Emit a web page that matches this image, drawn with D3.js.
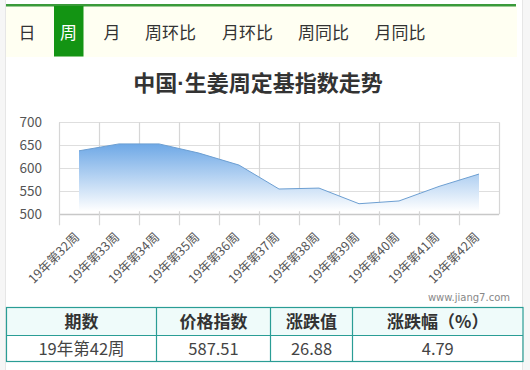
<!DOCTYPE html>
<html lang="zh">
<head>
<meta charset="UTF-8" />
<title>生姜周定基指数</title>
<script src="https://cdn.jsdelivr.net/npm/d3@7"></script>
<style>
    body { margin: 0; background: #f6f6f6; }
    text { font-family: "Microsoft YaHei", "Noto Sans CJK SC", sans-serif; }
</style>
</head>
<body>
<script>
    // data
    const tabs = ["日", "周", "月", "周环比", "月环比", "周同比", "月同比"];
    const activeTab = "周";
    const weeks = ["19年第32周", "19年第33周", "19年第34周", "19年第35周", "19年第36周", "19年第37周",
        "19年第38周", "19年第39周", "19年第40周", "19年第41周", "19年第42周"];
    const values = [638, 653, 653, 633, 607, 555, 557, 523, 529, 560.63, 587.51];
    const yTicks = [500, 550, 600, 650, 700];
    const tableHead = ["期数", "价格指数", "涨跌值", "涨跌幅（%）"];
    const tableRow = ["19年第42周", "587.51", "26.88", "4.79"];

    let w = 530, h = 370;
    let svg = d3.select("body").append("svg")
        .attr("width", w)
        .attr("height", h);

    // panel
    svg.append("rect").attr("x", 5.5).attr("y", -1).attr("width", 517).attr("height", h + 2)
        .attr("fill", "#fff").attr("stroke", "#e6e6e6");

    // tab bar
    svg.append("rect").attr("x", 6).attr("y", 6).attr("width", 511).attr("height", 51).attr("fill", "#fffff2");
    svg.append("rect").attr("x", 6).attr("y", 4).attr("width", 510).attr("height", 2.5).attr("fill", "#3a9a3a");

    let tabX = d3.scaleOrdinal().domain(tabs).range([27, 68.5, 112, 170.5, 247.5, 323.5, 400]);
    svg.append("rect").attr("x", 54).attr("y", 6).attr("width", 29.5).attr("height", 50.5).attr("fill", "#139413");
    svg.selectAll(".tab").data(tabs).enter().append("text")
        .attr("x", d => tabX(d))
        .attr("y", 39)
        .attr("text-anchor", "middle")
        .attr("font-size", 17)
        .attr("fill", d => d === activeTab ? "#fff" : "#333")
        .text(d => d);

    // title
    let title = svg.append("text").attr("x", 258).attr("y", 91).attr("text-anchor", "middle")
        .attr("font-size", 22).attr("font-weight", "bold").attr("fill", "#333");
    title.append("tspan").text("中国");
    title.append("tspan").style("font-family", "'Liberation Sans', Arial, sans-serif").text("·");
    title.append("tspan").text("生姜周定基指数走势");

    // scales
    let x = d3.scaleBand().domain(weeks).range([59, 499]);
    let y = d3.scaleLinear().domain([500, 700]).range([214.3, 122.3]);

    let g = svg.append("g");

    // gradient
    let grad = svg.append("defs").append("linearGradient")
        .attr("id", "fade").attr("x1", 0).attr("y1", 0).attr("x2", 0).attr("y2", 1);
    grad.append("stop").attr("offset", "0%").attr("stop-color", "#6ea8e6");
    grad.append("stop").attr("offset", "100%").attr("stop-color", "#ffffff");

    // grid
    g.selectAll(".hgrid").data(yTicks).enter().append("line")
        .attr("x1", 59).attr("x2", 499)
        .attr("y1", d => Math.round(y(d)) + 0.5).attr("y2", d => Math.round(y(d)) + 0.5)
        .attr("stroke", d => d === 500 ? "#c8c8c8" : "#dedede")
        .attr("stroke-width", d => d === 500 ? 1.5 : 1.2);
    let bounds = weeks.map(d => x(d)).concat([x.range()[1]]);
    g.selectAll(".vgrid").data(bounds).enter().append("line")
        .attr("x1", d => Math.round(d) + 0.5).attr("x2", d => Math.round(d) + 0.5)
        .attr("y1", y(700)).attr("y2", (d, i) => i === bounds.length - 1 ? y(500) : y(500) + 11)
        .attr("stroke", "#d6d6d6").attr("stroke-width", 1.2);

    let cx = d => x(d) + x.bandwidth() / 2;

    // area
    let area = d3.area()
        .x((d, i) => cx(weeks[i]))
        .y0(y(500) - 3)
        .y1(d => y(d));
    g.append("path").datum(values)
        .attr("d", area)
        .attr("fill", "url(#fade)");

    let line = d3.line()
        .x((d, i) => cx(weeks[i]))
        .y(d => y(d));
    g.append("path").datum(values)
        .attr("d", line)
        .attr("fill", "none")
        .attr("stroke", "#6d9fd2")
        .attr("stroke-width", 1);

    // y labels
    g.selectAll(".ylab").data(yTicks).enter().append("text")
        .attr("x", 42).attr("y", d => y(d) + 5)
        .attr("text-anchor", "end")
        .attr("font-size", 13.5).attr("fill", "#555")
        .text(d => d);

    // x labels
    g.selectAll(".xlab").data(weeks).enter().append("text")
        .attr("transform", d => `translate(${cx(d) + 1},${238}) rotate(-45)`)
        .attr("text-anchor", "end")
        .attr("font-size", 12.5).attr("fill", "#555")
        .text(d => d);

    // watermark
    svg.append("text").attr("x", 510).attr("y", 301).attr("text-anchor", "end")
        .attr("font-size", 10).attr("fill", "#888")
        .style("font-family", "Verdana, 'DejaVu Sans', sans-serif")
        .text("www.jiang7.com");

    // table
    let cols = [6.5, 156.5, 270.5, 352.5, 523];
    let rowsY = [307.5, 335.5, 361.5];
    let t = svg.append("g");
    t.append("rect").attr("x", cols[0]).attr("y", rowsY[0])
        .attr("width", cols[4] - cols[0]).attr("height", rowsY[1] - rowsY[0]).attr("fill", "#effbfa");
    t.append("rect").attr("x", cols[0]).attr("y", rowsY[0])
        .attr("width", cols[4] - cols[0]).attr("height", rowsY[2] - rowsY[0])
        .attr("fill", "none").attr("stroke", "#2a9d95").attr("stroke-width", 1.2);
    t.append("line").attr("x1", cols[0]).attr("x2", cols[4]).attr("y1", rowsY[1]).attr("y2", rowsY[1])
        .attr("stroke", "#2a9d95").attr("stroke-width", 1.2);
    t.selectAll(".cl").data(cols.slice(1, 4)).enter().append("line")
        .attr("x1", d => d).attr("x2", d => d).attr("y1", rowsY[0]).attr("y2", rowsY[2])
        .attr("stroke", "#2a9d95").attr("stroke-width", 1.2);
    t.selectAll(".th").data(tableHead).enter().append("text")
        .attr("x", (d, i) => (cols[i] + cols[i + 1]) / 2).attr("y", 328)
        .attr("text-anchor", "middle").attr("font-size", 17).attr("font-weight", "bold").attr("fill", "#333")
        .text(d => d);
    t.selectAll(".td").data(tableRow).enter().append("text")
        .attr("x", (d, i) => (cols[i] + cols[i + 1]) / 2).attr("y", 354.5)
        .attr("text-anchor", "middle").attr("font-size", 16.5).attr("fill", "#444")
        .text(d => d);
</script>
</body>
</html>
